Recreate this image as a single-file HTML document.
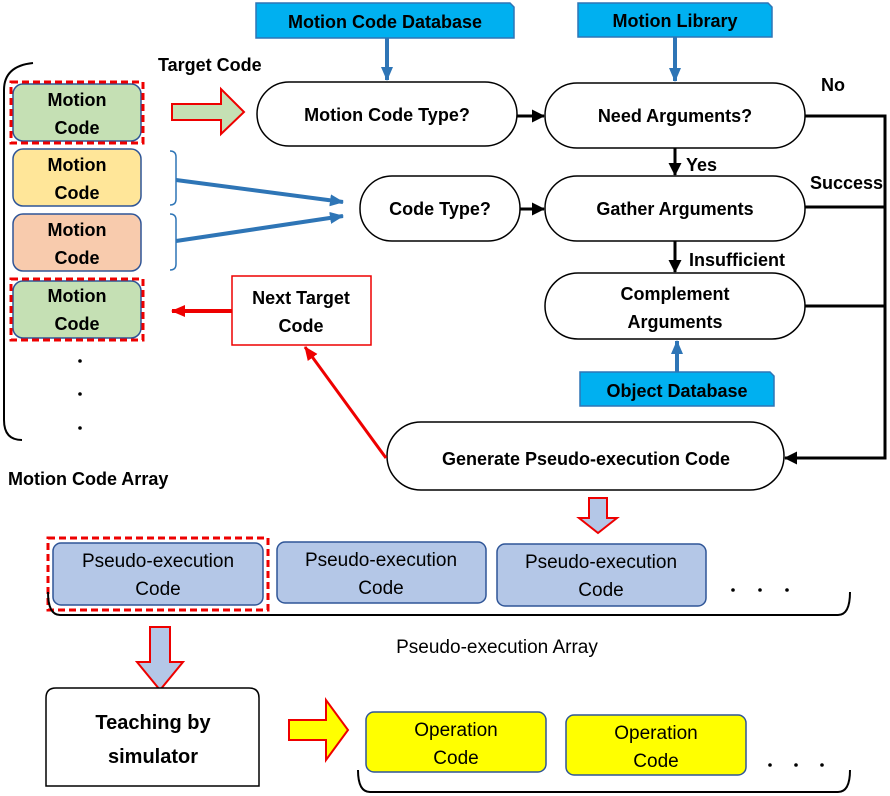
<!DOCTYPE html>
<html><head><meta charset="utf-8"><style>body{margin:0;background:#fff}svg{display:block}</style></head><body>
<svg width="890" height="796" viewBox="0 0 890 796" xmlns="http://www.w3.org/2000/svg" font-family="Liberation Sans, sans-serif" font-weight="bold" font-size="17">
<defs>
<marker id="ab" markerWidth="13" markerHeight="13" refX="12" refY="6.5" orient="auto" markerUnits="userSpaceOnUse"><path d="M0,0L13,6.5L0,13z" fill="#000"/></marker>
<marker id="abl" markerWidth="14" markerHeight="12" refX="13" refY="6" orient="auto" markerUnits="userSpaceOnUse"><path d="M0,0L14,6L0,12z" fill="#2e75b6"/></marker>
<marker id="ar" markerWidth="14" markerHeight="12" refX="13" refY="6" orient="auto" markerUnits="userSpaceOnUse"><path d="M0,0L14,6L0,12z" fill="#e00"/></marker>
</defs>
<path d="M256,3H510L514,7V38H256Z" fill="#00b0f0" stroke="#2e75b6" stroke-width="1.5"/>
<text x="385" y="28" text-anchor="middle" font-size="18">Motion Code Database</text>
<path d="M578,3H768L772,7V37H578Z" fill="#00b0f0" stroke="#2e75b6" stroke-width="1.5"/>
<text x="675" y="27" text-anchor="middle" font-size="18">Motion Library</text>
<path d="M580,372H770L774,376V406H580Z" fill="#00b0f0" stroke="#2e75b6" stroke-width="1.5"/>
<text x="677" y="397" text-anchor="middle" font-size="18">Object Database</text>
<line x1="387" y1="38" x2="387" y2="80" stroke="#2e75b6" stroke-width="4" marker-end="url(#abl)"/>
<line x1="675" y1="37" x2="675" y2="81" stroke="#2e75b6" stroke-width="4" marker-end="url(#abl)"/>
<line x1="677" y1="372" x2="677" y2="341" stroke="#2e75b6" stroke-width="4" marker-end="url(#abl)"/>
<g fill="#fff" stroke="#000" stroke-width="1.5">
<rect x="257" y="82" width="260" height="64" rx="32"/>
<rect x="545" y="83" width="260" height="65" rx="32"/>
<rect x="360" y="176" width="160" height="65" rx="32"/>
<rect x="545" y="176" width="260" height="65" rx="32"/>
<rect x="545" y="273" width="260" height="66" rx="33"/>
<rect x="387" y="422" width="397" height="68" rx="34"/>
</g>
<g font-size="18" text-anchor="middle">
<text x="387" y="121">Motion Code Type?</text>
<text x="675" y="122">Need Arguments?</text>
<text x="440" y="215">Code Type?</text>
<text x="675" y="215">Gather Arguments</text>
<text x="675" y="300">Complement</text>
<text x="675" y="328">Arguments</text>
<text x="586" y="465">Generate Pseudo-execution Code</text>
</g>
<g stroke="#000" stroke-width="3" fill="none">
<line x1="517" y1="116" x2="544" y2="116" marker-end="url(#ab)"/>
<line x1="520" y1="209" x2="544" y2="209" marker-end="url(#ab)"/>
<line x1="675" y1="148" x2="675" y2="175" marker-end="url(#ab)"/>
<line x1="675" y1="241" x2="675" y2="272" marker-end="url(#ab)"/>
<polyline points="805,116 885,116 885,458 785,458" marker-end="url(#ab)"/>
<line x1="805" y1="207" x2="885" y2="207"/>
<line x1="805" y1="306" x2="885" y2="306"/>
</g>
<g font-size="18">
<text x="821" y="91">No</text>
<text x="686" y="171">Yes</text>
<text x="810" y="189">Success</text>
<text x="689" y="266">Insufficient</text>
<text x="158" y="71">Target Code</text>
</g>
<path d="M33,63 Q4,66 4,90 V420 Q4,440 22,440" fill="none" stroke="#000" stroke-width="2"/>
<g stroke="#2f5597" stroke-width="1.5">
<rect x="13" y="84" width="128" height="57" rx="10" fill="#c5e0b4"/>
<rect x="13" y="149" width="128" height="57" rx="10" fill="#ffe699"/>
<rect x="13" y="214" width="128" height="57" rx="10" fill="#f8cbad"/>
<rect x="13" y="281" width="128" height="57" rx="10" fill="#c5e0b4"/>
</g>
<rect x="11" y="82" width="132" height="61" fill="none" stroke="#e00" stroke-width="3" stroke-dasharray="7,4"/>
<rect x="11" y="279" width="132" height="61" fill="none" stroke="#e00" stroke-width="3" stroke-dasharray="7,4"/>
<g text-anchor="middle" font-size="18">
<text x="77" y="106">Motion</text><text x="77" y="134">Code</text>
<text x="77" y="171">Motion</text><text x="77" y="199">Code</text>
<text x="77" y="236">Motion</text><text x="77" y="264">Code</text>
<text x="77" y="302">Motion</text><text x="77" y="330">Code</text>
</g>
<g fill="#000"><circle cx="80" cy="361" r="1.8"/><circle cx="80" cy="394" r="1.8"/><circle cx="80" cy="428" r="1.8"/></g>
<text x="8" y="485" font-size="18">Motion Code Array</text>
<path d="M172,104H221V89L244,112L221,134V120H172Z" fill="#c5e0b4" stroke="#e00" stroke-width="2"/>
<path d="M170,151 Q176,151 176,157 V199 Q176,205 170,205 M170,214 Q176,214 176,220 V264 Q176,270 170,270" fill="none" stroke="#2e75b6" stroke-width="1.5"/>
<line x1="176" y1="180" x2="343" y2="202" stroke="#2e75b6" stroke-width="4" marker-end="url(#abl)"/>
<line x1="176" y1="241" x2="343" y2="216" stroke="#2e75b6" stroke-width="4" marker-end="url(#abl)"/>
<rect x="232" y="276" width="139" height="69" fill="#fff" stroke="#e00" stroke-width="1.5"/>
<text x="301" y="304" text-anchor="middle" font-size="18">Next Target</text>
<text x="301" y="332" text-anchor="middle" font-size="18">Code</text>
<line x1="232" y1="311" x2="172" y2="311" stroke="#e00" stroke-width="4" marker-end="url(#ar)"/>
<line x1="386" y1="458" x2="305" y2="347" stroke="#e00" stroke-width="3" marker-end="url(#ar)"/>
<path d="M589,498H607V518H617L598,533L579,518H589Z" fill="#b4c7e7" stroke="#e00" stroke-width="2"/>
<g stroke="#2f5597" stroke-width="1.5" fill="#b4c7e7">
<rect x="53" y="543" width="210" height="62" rx="8"/>
<rect x="277" y="542" width="209" height="61" rx="8"/>
<rect x="497" y="544" width="209" height="62" rx="8"/>
</g>
<rect x="48" y="538" width="220" height="72" fill="none" stroke="#e00" stroke-width="3" stroke-dasharray="7,4"/>
<g text-anchor="middle" font-weight="normal" font-size="19">
<text x="158" y="567">Pseudo-execution</text><text x="158" y="595">Code</text>
<text x="381" y="566">Pseudo-execution</text><text x="381" y="594">Code</text>
<text x="601" y="568">Pseudo-execution</text><text x="601" y="596">Code</text>
</g>
<g fill="#000"><circle cx="733" cy="590" r="1.8"/><circle cx="760" cy="590" r="1.8"/><circle cx="787" cy="590" r="1.8"/></g>
<path d="M48,592 Q48,615 60,615 H838 Q850,615 850,592" fill="none" stroke="#000" stroke-width="2"/>
<text x="497" y="653" text-anchor="middle" font-weight="normal" font-size="19">Pseudo-execution Array</text>
<path d="M150,627H170V662H183L160,690L137,662H150Z" fill="#b4c7e7" stroke="#e00" stroke-width="2"/>
<path d="M46,786V698Q46,688 56,688H249Q259,688 259,698V786Z" fill="#fff" stroke="#000" stroke-width="1.5"/>
<text x="153" y="729" text-anchor="middle" font-size="20">Teaching by</text>
<text x="153" y="763" text-anchor="middle" font-size="20">simulator</text>
<path d="M289,720H326V700L348,730L326,760V740H289Z" fill="#ff0" stroke="#e00" stroke-width="2"/>
<g stroke="#2f5597" stroke-width="1.5" fill="#ff0">
<rect x="366" y="712" width="180" height="60" rx="8"/>
<rect x="566" y="715" width="180" height="60" rx="8"/>
</g>
<g text-anchor="middle" font-weight="normal" font-size="19">
<text x="456" y="736">Operation</text><text x="456" y="764">Code</text>
<text x="656" y="739">Operation</text><text x="656" y="767">Code</text>
</g>
<g fill="#000"><circle cx="770" cy="765" r="1.8"/><circle cx="796" cy="765" r="1.8"/><circle cx="822" cy="765" r="1.8"/></g>
<path d="M358,770 Q358,792 370,792 H838 Q850,792 850,770" fill="none" stroke="#000" stroke-width="2"/>
</svg>
</body></html>
